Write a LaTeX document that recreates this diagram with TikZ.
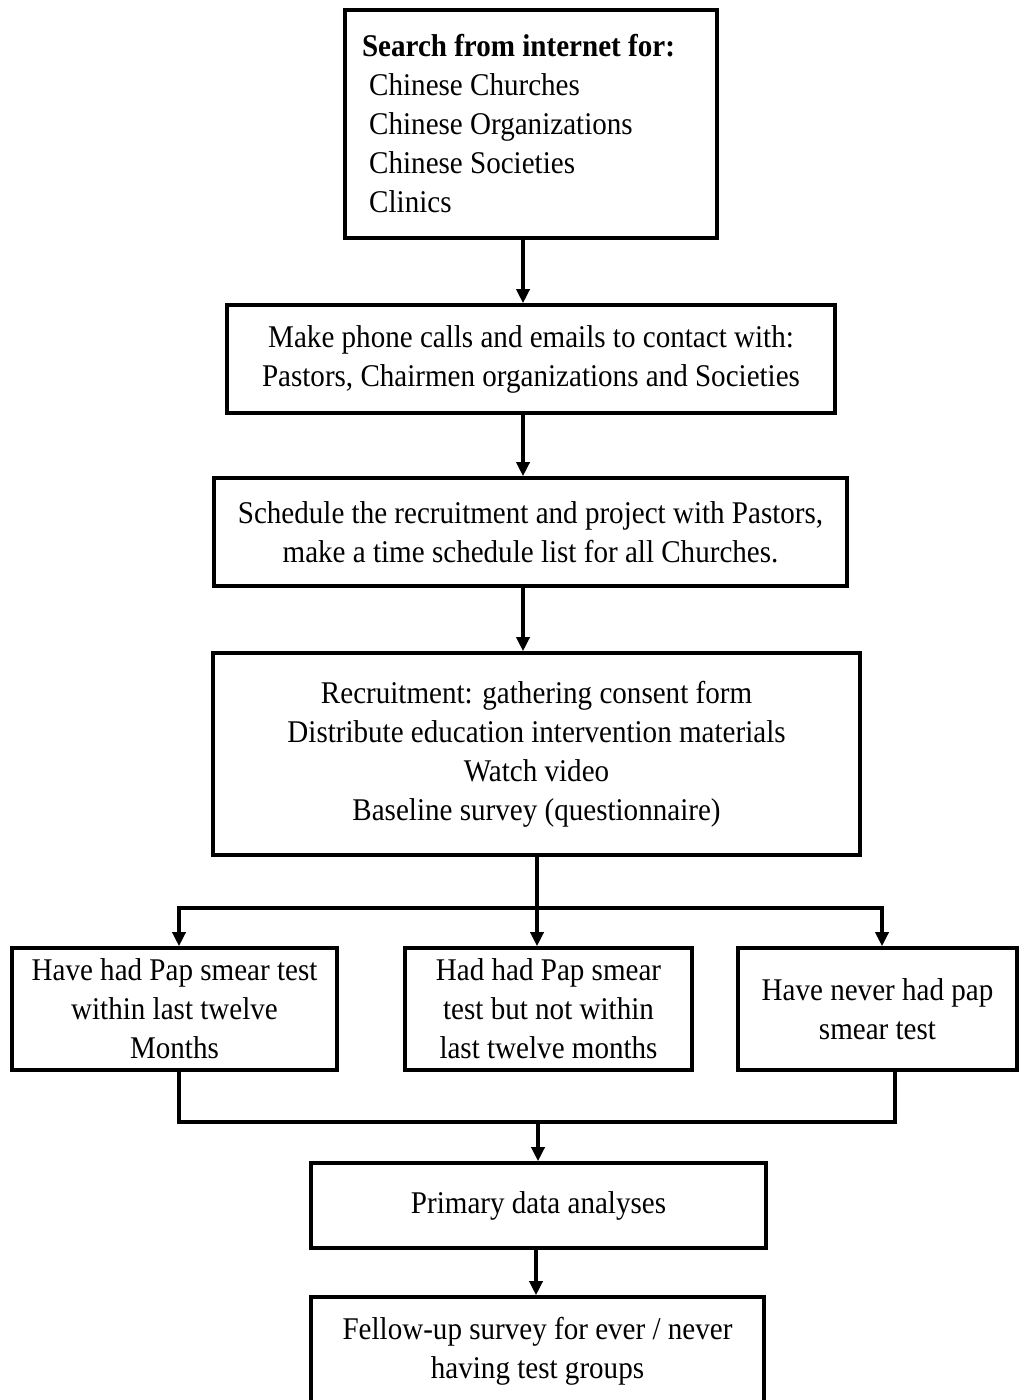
\documentclass[tikz,border=0pt]{standalone}
\usepackage{fontspec}
\setmainfont[FakeStretch=0.92]{Liberation Serif}
\usetikzlibrary{arrows.meta}
\begin{document}
\begin{tikzpicture}[x=0.5pt,y=-0.5pt,
  box/.style={draw,line width=1.8pt,align=center,inner sep=0pt,font=\fontsize{15.8}{19.5}\selectfont},
  conn/.style={line width=1.7pt},
  arr/.style={conn,-{Triangle[width=6.5pt,length=7pt]}}]
\useasboundingbox (0,0) rectangle (1019,1400);
\clip (0,0) rectangle (1019,1400);
% boxes
\node[box,minimum width=186pt,minimum height=114pt,text width=169pt,align=flush left] (n1) at (531,124)
  {\textbf{Search from internet for:}\\\hspace*{3.6pt}Chinese Churches\\\hspace*{3.6pt}Chinese Organizations\\\hspace*{3.6pt}Chinese Societies\\\hspace*{3.6pt}Clinics};
\node[box,minimum width=304pt,minimum height=54pt] (n2) at (531,359)
  {Make phone calls and emails to contact with:\\Pastors, Chairmen organizations and Societies};
\node[box,minimum width=316.5pt,minimum height=54pt] (n3) at (530.5,532)
  {Schedule the recruitment and project with Pastors,\\make a time schedule list for all Churches.};
\node[box,minimum width=323.5pt,minimum height=101pt] (n4) at (536.5,754)
  {Recruitment: gathering consent form\\Distribute education intervention materials\\Watch video\\Baseline survey (questionnaire)};
\node[box,minimum width=162.5pt,minimum height=61pt] (a) at (174.5,1009)
  {Have had Pap smear test\\within last twelve\\Months};
\node[box,minimum width=143.5pt,minimum height=61pt] (b) at (548.5,1009)
  {Had had Pap smear\\test but not within\\last twelve months};
\node[box,minimum width=139.5pt,minimum height=61pt] (c) at (877.5,1009)
  {Have never had pap\\smear test};
\node[box,minimum width=227.5pt,minimum height=42.5pt] (n6) at (538.5,1205.5)
  {Primary data analyses};
\node[box,minimum width=226.5pt,minimum height=54pt] (n7) at (537.5,1351)
  {Fellow-up survey for ever / never\\having test groups};
% connector coordinates
\coordinate (ax) at (523,0);
\coordinate (split) at (537,908);
\coordinate (la) at (179,908);
\coordinate (ra) at (882,908);
\coordinate (jl) at (179,1122);
\coordinate (jr) at (895,1122);
\coordinate (jm) at (538,1122);
\coordinate (bx) at (536,0);
% connectors
\draw[arr] (n1.south -| ax) -- (n2.north -| ax);
\draw[arr] (n2.south -| ax) -- (n3.north -| ax);
\draw[arr] (n3.south -| ax) -- (n4.north -| ax);
\draw[conn] (n4.south -| split) -- (split);
\draw[arr] (split) -| (a.north -| la);
\draw[arr] (split) -| (c.north -| ra);
\draw[arr] (split) -- (b.north -| split);
\draw[conn] (a.south -| jl) -- (jl) -- (jr) -- (c.south -| jr);
\draw[arr] (jm) -- (n6.north -| jm);
\draw[arr] (n6.south -| bx) -- (n7.north -| bx);
\end{tikzpicture}
\end{document}
